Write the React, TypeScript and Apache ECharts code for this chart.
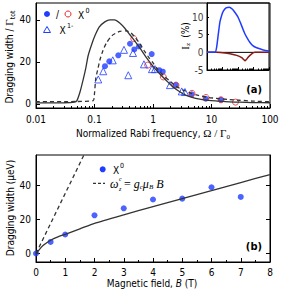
import React, { useEffect, useRef } from 'react';
import * as echarts from 'echarts';

// ---------- Panel (a): drag width vs normalized Rabi frequency ----------
const RABI_SOLID: number[][] = [
  [0.01, 0.4], [0.03, 0.5], [0.045, 0.8], [0.05, 1.5], [0.057, 6], [0.064, 11.5], [0.071, 17],
  [0.078, 23], [0.09, 28.5], [0.102, 32.5], [0.12, 36.5], [0.15, 39], [0.184, 40], [0.22, 40],
  [0.27, 38.5], [0.33, 36], [0.4, 33], [0.5, 29.5], [0.6, 26.5], [0.75, 22.5], [0.9, 19.5],
  [1.1, 16.5], [1.35, 13.8], [1.7, 11], [2.1, 8.5], [2.7, 6.2], [3.5, 4.3], [4.5, 3.2],
  [6.3, 2.2], [9, 1.6], [12.5, 1.3], [20, 0.9], [30, 0.75], [50, 0.6], [100, 0.5],
];
const RABI_DASHED: number[][] = [
  [0.01, 1], [0.05, 1.1], [0.095, 1.5], [0.1, 5], [0.105, 12], [0.115, 17], [0.124, 21],
  [0.14, 25.5], [0.16, 29], [0.2, 32.5], [0.27, 34.5], [0.35, 34.7], [0.42, 33.8], [0.5, 31.5],
  [0.6, 28.5], [0.7, 25.5], [0.85, 22], [1.0, 19.5], [1.2, 16.5], [1.5, 13.5], [2, 10.5],
  [2.5, 8.3], [3.3, 6.5], [4.5, 5], [6, 4], [9, 3], [12, 2.6], [20, 2], [30, 1.7], [50, 1.3], [100, 1],
];
const X0_FILLED: number[][] = [
  [0.151, 17.9], [0.179, 20.2], [0.255, 23.1], [0.404, 28.6], [0.479, 25.9], [0.576, 27.3],
  [0.95, 23.7], [1.28, 16], [1.47, 15.3], [2.45, 8.9], [4.6, 4.5], [8.0, 2.4], [14.5, 1.9],
];
const X0_OPEN: number[][] = [
  [0.47, 31], [0.81, 18.4], [1.5, 12.8], [2.47, 8.9], [4.64, 5.0], [8.05, 3.0], [14.5, 1.9], [25.7, 0.8],
];
const X1_TRI: number[][] = [
  [0.116, 11.6], [0.141, 15.5], [0.205, 20.7], [0.319, 25.7], [0.378, 13.6], [0.455, 24.2],
  [0.7, 18.8], [0.96, 16.5], [1.08, 16.5], [1.95, 8.9], [3.1, 5.9], [3.52, 5.6],
];
const RABI_TICKS = [0.01, 0.1, 1, 10, 100];
const RABI_Y_TICKS = [0, 20, 40];

// ---------- Inset: I_z (%) ----------
const INSET_BLUE: number[][] = [
  [0.01, 0], [0.033, 0], [0.042, 1.5], [0.054, 5.3], [0.069, 8.7], [0.09, 10.6], [0.113, 11.7],
  [0.17, 12.6], [0.275, 12.8], [0.42, 12.3], [0.64, 11.3], [1.0, 10.0], [1.35, 8.7], [2.0, 6.8],
  [2.83, 5.2], [4.2, 3.8], [5.94, 2.8], [9, 1.9], [16, 1.3], [43, 0.7], [100, 0.4],
];
const INSET_RED: number[][] = [
  [0.01, 0], [0.04, 0], [0.145, -0.15], [0.305, -0.4], [0.82, -0.86], [1.73, -1.5], [2.4, -2.1],
  [2.83, -2.4], [3.5, -2.0], [4.62, -1.3], [7.66, -0.4], [12.5, 0], [100, 0],
];
const INSET_ZERO: number[][] = [[0.01, 0], [100, 0]];
const INSET_Y_TICKS = [-5, 0, 5, 10];

// ---------- Panel (b): drag width vs magnetic field ----------
const B_FIELD = [0, 0.5, 1, 2, 3, 4, 5, 6, 7];
const B_WIDTH = [0, 6.8, 11.2, 22.5, 26.6, 31.8, 32.3, 39, 33.3];
const B_SOLID: number[][] = [
  [0, -0.5], [0.1, 2], [0.25, 4.8], [0.5, 7.8], [0.75, 9.8], [1, 11.3], [1.5, 14.5], [2, 17.8],
  [3, 22.8], [4, 27.6], [5, 32.3], [6, 37], [7, 41.8], [8, 46.5],
];
const B_ZEEMAN: number[][] = [[0, 0], [2, 70.8]];
const B_Y_TICKS = [0, 20, 40];

const BLUE = '#1f3cff';
const RED = '#e8262a';
const DARKRED = '#8b1a1a';
const INK = '#333';
const FONT = '"DejaVu Sans Condensed", "DejaVu Sans", sans-serif';
const SERIF = '"Liberation Serif", "DejaVu Serif", serif';

function minorLogTicks(lo: number, hi: number): number[] {
  const out: number[] = [];
  for (let d = lo; d < hi * 0.999; d *= 10) {
    for (let k = 2; k <= 9; k++) out.push(+(d * k).toPrecision(6));
  }
  return out;
}

const axisText = { color: '#000', fontFamily: FONT, fontSize: 10 };

export default function App() {
  const ref = useRef<HTMLDivElement>(null);
  useEffect(() => {
    if (!ref.current) return;
    const chart = echarts.init(ref.current, null, { renderer: 'svg' });
    const minor = minorLogTicks(0.01, 100);
    const line = { onZero: false, lineStyle: { color: '#000', width: 1 } };
    const noLine = { show: false, onZero: false };
    const noSplit = { show: false };

    const graphic: any[] = [
      {
        type: 'text', x: 153, y: 133,
        style: {
          text: '{a|Normalized Rabi frequency, }{g|Ω / Γ}{s|0}', align: 'center', verticalAlign: 'middle',
          rich: {
            a: { fontFamily: FONT, fontSize: 10, fill: '#000', lineHeight: 14 },
            g: { fontFamily: SERIF, fontSize: 11, fill: '#000', lineHeight: 14 },
            s: { fontFamily: SERIF, fontSize: 7, fill: '#000', verticalAlign: 'bottom', lineHeight: 9 },
          },
        },
      },
      {
        type: 'text', x: 9, y: 57, rotation: Math.PI / 2,
        style: {
          text: '{a|Dragging width / }{g|Γ}{s|tot}', align: 'center', verticalAlign: 'middle',
          rich: {
            a: { fontFamily: FONT, fontSize: 10, fill: '#000', lineHeight: 14 },
            g: { fontFamily: SERIF, fontSize: 11, fill: '#000', lineHeight: 14 },
            s: { fontFamily: FONT, fontSize: 7, fill: '#000', verticalAlign: 'bottom', lineHeight: 9 },
          },
        },
      },
      // inset y title as plain texts
      { type: 'text', x: 185, y: 48, rotation: Math.PI / 2, style: { text: 'I', align: 'center', verticalAlign: 'middle', font: `11px ${SERIF}`, fill: '#000' } },
      { type: 'text', x: 188, y: 44.5, rotation: Math.PI / 2, style: { text: 'z', align: 'center', verticalAlign: 'middle', font: `7px ${SERIF}`, fill: '#000' } },
      { type: 'text', x: 185, y: 30, rotation: Math.PI / 2, style: { text: '(%)', align: 'center', verticalAlign: 'middle', font: `10px ${FONT}`, fill: '#000' } },
      {
        type: 'text', x: 10, y: 208, rotation: Math.PI / 2,
        style: { text: 'Dragging width (µeV)', align: 'center', verticalAlign: 'middle', font: `10px ${FONT}`, fill: '#000' },
      },
      {
        type: 'text', x: 152, y: 283,
        style: {
          text: '{a|Magnetic field, }{i|B}{a| (T)}', align: 'center', verticalAlign: 'middle',
          rich: {
            a: { fontFamily: FONT, fontSize: 10, fill: '#000' },
            i: { fontFamily: FONT, fontSize: 10, fontStyle: 'italic', fill: '#000' },
          },
        },
      },
      { type: 'text', x: 262, y: 89, style: { text: '(a)', align: 'right', verticalAlign: 'middle', font: `bold 11px ${FONT}`, fill: '#000' } },
      { type: 'text', x: 262, y: 246, style: { text: '(b)', align: 'right', verticalAlign: 'middle', font: `bold 11px ${FONT}`, fill: '#000' } },
      // legend (a)
      { type: 'circle', shape: { cx: 47, cy: 14, r: 3 }, style: { fill: BLUE } },
      { type: 'text', x: 57.5, y: 14, style: { text: '/', align: 'center', verticalAlign: 'middle', font: `10px ${FONT}`, fill: '#000' } },
      { type: 'circle', shape: { cx: 68, cy: 14, r: 3 }, style: { fill: 'none', stroke: RED, lineWidth: 1 } },
      { type: 'text', x: 78, y: 15, style: { text: 'X', align: 'left', verticalAlign: 'middle', font: `10px ${FONT}`, fill: '#000' } },
      { type: 'text', x: 85.5, y: 10.5, style: { text: '0', align: 'left', verticalAlign: 'middle', font: `7px ${FONT}`, fill: '#000' } },
      { type: 'polygon', shape: { points: [[47, 26.5], [50.5, 32.5], [43.5, 32.5]] }, style: { fill: 'none', stroke: BLUE, lineWidth: 1 } },
      { type: 'text', x: 59.5, y: 30.5, style: { text: 'X', align: 'left', verticalAlign: 'middle', font: `10px ${FONT}`, fill: '#000' } },
      { type: 'text', x: 67, y: 25.5, style: { text: '1-', align: 'left', verticalAlign: 'middle', font: `7px ${FONT}`, fill: '#000' } },
      // legend (b)
      { type: 'circle', shape: { cx: 102.7, cy: 169.3, r: 3 }, style: { fill: BLUE } },
      { type: 'text', x: 113, y: 170.5, style: { text: 'X', align: 'left', verticalAlign: 'middle', font: `10px ${FONT}`, fill: '#000' } },
      { type: 'text', x: 120, y: 166, style: { text: '0', align: 'left', verticalAlign: 'middle', font: `7px ${FONT}`, fill: '#000' } },
      { type: 'line', shape: { x1: 93, y1: 183.3, x2: 105, y2: 183.3 }, style: { stroke: INK, lineWidth: 1.2, lineDash: [3, 2] } },
      { type: 'text', x: 110, y: 183.5, style: { text: 'ω', align: 'left', verticalAlign: 'middle', font: `italic 12px ${SERIF}`, fill: '#000' } },
      { type: 'text', x: 119, y: 178.5, style: { text: 'c', align: 'left', verticalAlign: 'middle', font: `italic 6px ${SERIF}`, fill: '#000' } },
      { type: 'text', x: 119, y: 188.5, style: { text: 'z', align: 'left', verticalAlign: 'middle', font: `italic 6px ${SERIF}`, fill: '#000' } },
      {
        type: 'text', x: 124, y: 183.5,
        style: {
          text: '{m|= }{i|g}{s|c}{i|μ}{s|B}{i| B}', align: 'left', verticalAlign: 'middle',
          rich: {
            m: { fontFamily: SERIF, fontSize: 12, fill: '#000', lineHeight: 14 },
            i: { fontFamily: SERIF, fontSize: 12, fontStyle: 'italic', fill: '#000', lineHeight: 14 },
            s: { fontFamily: SERIF, fontSize: 7, fontStyle: 'italic', fill: '#000', verticalAlign: 'bottom', lineHeight: 9 },
          },
        },
      },
    ];

    const option: any = {
      animation: false,
      backgroundColor: '#fff',
      grid: [
        { left: 36, top: 3, width: 234, height: 105, show: true, borderColor: '#000', borderWidth: 1, backgroundColor: 'transparent' },
        { left: 207, top: 3, width: 62, height: 67, show: true, borderColor: '#000', borderWidth: 1, backgroundColor: 'transparent' },
        { left: 36, top: 155, width: 234, height: 107, show: true, borderColor: '#000', borderWidth: 1, backgroundColor: 'transparent' },
      ],
      xAxis: [
        {
          type: 'log', gridIndex: 0, min: 0.01, max: 100, logBase: 10, position: 'bottom',
          axisLine: line, splitLine: noSplit,
          axisTick: { inside: true, length: 4, customValues: RABI_TICKS, lineStyle: { color: '#000' } },
          axisLabel: { ...axisText, margin: 6, customValues: RABI_TICKS, formatter: (v: number) => String(+(+v).toPrecision(4)) },
        },
        {
          type: 'log', gridIndex: 0, min: 0.01, max: 100, logBase: 10, position: 'bottom',
          axisLine: noLine, splitLine: noSplit,
          axisTick: { inside: true, length: 2, customValues: minor, lineStyle: { color: '#000' } },
          axisLabel: { show: false },
        },
        {
          type: 'log', gridIndex: 1, min: 0.01, max: 100, logBase: 10, position: 'bottom',
          axisLine: line, splitLine: noSplit,
          axisTick: { inside: true, length: 3, customValues: RABI_TICKS, lineStyle: { color: '#000' } },
          axisLabel: { show: false },
        },
        {
          type: 'log', gridIndex: 1, min: 0.01, max: 100, logBase: 10, position: 'bottom',
          axisLine: noLine, splitLine: noSplit,
          axisTick: { inside: true, length: 1.5, customValues: minor, lineStyle: { color: '#000' } },
          axisLabel: { show: false },
        },
        {
          type: 'value', gridIndex: 2, min: 0, max: 8, interval: 1,
          axisLine: line, splitLine: noSplit,
          axisTick: { inside: true, length: 4, lineStyle: { color: '#000' } },
          minorTick: { show: true, splitNumber: 2, length: 2, lineStyle: { color: '#000' } },
          minorSplitLine: { show: false },
          axisLabel: { ...axisText, margin: 5 },
        },
      ],
      yAxis: [
        {
          type: 'value', gridIndex: 0, min: -2, max: 48,
          axisLine: line, splitLine: noSplit,
          axisTick: { show: true, inside: true, length: 4, customValues: RABI_Y_TICKS, lineStyle: { color: '#000' } },
          axisLabel: { ...axisText, margin: 5, customValues: RABI_Y_TICKS },
        },
        {
          type: 'value', gridIndex: 1, min: -5, max: 14,
          axisLine: line, splitLine: noSplit,
          axisTick: { show: true, inside: true, length: 2, customValues: INSET_Y_TICKS, lineStyle: { color: '#000' } },
          axisLabel: { show: false },
        },
        {
          type: 'value', gridIndex: 2, min: -5, max: 58,
          axisLine: line, splitLine: noSplit,
          axisTick: { show: true, inside: true, length: 4, customValues: B_Y_TICKS, lineStyle: { color: '#000' } },
          axisLabel: { ...axisText, margin: 5, customValues: B_Y_TICKS },
        },
        {
          type: 'value', gridIndex: 2, min: -5, max: 58, position: 'right',
          axisLine: line, splitLine: noSplit,
          axisTick: { show: true, inside: true, length: 4, customValues: B_Y_TICKS, lineStyle: { color: '#000' } },
          axisLabel: { show: false },
        },
      ],
      series: [
        { type: 'line', xAxisIndex: 0, yAxisIndex: 0, data: RABI_SOLID, showSymbol: false, smooth: 0.2, lineStyle: { color: INK, width: 1.3 } },
        { type: 'line', xAxisIndex: 0, yAxisIndex: 0, data: RABI_DASHED, showSymbol: false, smooth: 0.2, lineStyle: { color: INK, width: 1.3, type: [4, 3] } },
        { type: 'scatter', xAxisIndex: 0, yAxisIndex: 0, data: X0_FILLED, symbol: 'circle', symbolSize: 6, itemStyle: { color: BLUE } },
        { type: 'scatter', xAxisIndex: 0, yAxisIndex: 0, data: X0_OPEN, symbol: 'circle', symbolSize: 6, itemStyle: { color: 'rgba(0,0,0,0)', borderColor: RED, borderWidth: 1 } },
        { type: 'scatter', xAxisIndex: 0, yAxisIndex: 0, data: X1_TRI, symbol: 'triangle', symbolSize: 7, itemStyle: { color: 'rgba(0,0,0,0)', borderColor: BLUE, borderWidth: 1 } },
        { type: 'line', xAxisIndex: 2, yAxisIndex: 1, data: INSET_ZERO, showSymbol: false, lineStyle: { color: '#000', width: 1 } },
        { type: 'line', xAxisIndex: 2, yAxisIndex: 1, data: INSET_RED, showSymbol: false, smooth: 0.2, lineStyle: { color: DARKRED, width: 1.5 } },
        { type: 'line', xAxisIndex: 2, yAxisIndex: 1, data: INSET_BLUE, showSymbol: false, smooth: 0.2, lineStyle: { color: BLUE, width: 1.5 } },
        // inset tick labels, as labels of invisible points on the inset's left edge
        {
          type: 'scatter', xAxisIndex: 2, yAxisIndex: 1, clip: false, z: 20, silent: true,
          data: INSET_Y_TICKS.map((v) => [0.01, v]),
          symbol: 'circle', symbolSize: 1, itemStyle: { color: 'rgba(0,0,0,0)' },
          label: {
            show: true, position: 'left', distance: 3, color: '#000', fontFamily: FONT, fontSize: 10,
            formatter: (p: any) => String(p.value[1]),
          },
        },
        { type: 'line', xAxisIndex: 4, yAxisIndex: 2, data: B_SOLID, showSymbol: false, smooth: 0.2, lineStyle: { color: INK, width: 1.3 } },
        { type: 'line', xAxisIndex: 4, yAxisIndex: 2, data: B_ZEEMAN, showSymbol: false, clip: true, lineStyle: { color: INK, width: 1.3, type: [4, 3] } },
        { type: 'scatter', xAxisIndex: 4, yAxisIndex: 2, data: B_FIELD.map((b, i) => [b, B_WIDTH[i]]), symbol: 'circle', symbolSize: 6, itemStyle: { color: BLUE } },
      ],
      graphic,
    };
    chart.setOption(option);
    return () => chart.dispose();
  }, []);
  return (
    <div
      ref={ref}
      style={{ position: 'fixed', left: 0, top: 0, width: 282, height: 293, background: '#fff' }}
    />
  );
}
